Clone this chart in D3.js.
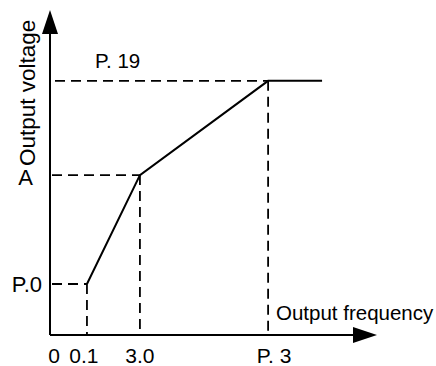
<!DOCTYPE html>
<html><head><meta charset="utf-8">
<script src="https://cdn.jsdelivr.net/npm/d3@7"></script>
<style>body{margin:0;background:#fff}svg{display:block}text{font-family:"Liberation Sans",Arial,sans-serif;fill:#000}</style>
</head><body>
<script>
// schematic V/f curve values (abstract units)
const freqValues = [11.3, 27.5, 66.7, 83.2];      // P.0 start, 3.0, P.3, end
const voltValues = [15.7, 49.2, 78.2, 78.2];
const xTickLabels = ["0", "0.1", "3.0", "P. 3"];
const xTickValues = [0, 11.3, 27.5, 66.7];
const yTickLabels = ["P.0", "A"];
const yTickValues = [15.7, 49.2];
const topLabel = "P. 19";
const xTitle = "Output frequency";
const yTitle = "Output voltage";

const W = 436, H = 366;
const svg = d3.select("body").append("svg").attr("width", W).attr("height", H);
const x = d3.scaleLinear().domain([0, 100]).range([50, 377]);
const y = d3.scaleLinear().domain([0, 100]).range([335, 10]);

const pts = freqValues.map((f, i) => [f, voltValues[i]]);

// dashed guides
const dash = "10,6";
const g = svg.append("g").attr("stroke", "#000").attr("stroke-width", 1.8).attr("stroke-dasharray", dash).attr("fill", "none");
[0, 1].forEach(i => {
  g.append("line").attr("x1", x(0) + 2).attr("x2", x(pts[i][0])).attr("y1", y(pts[i][1])).attr("y2", y(pts[i][1]));
});
g.append("line").attr("x1", x(0) + 5).attr("x2", x(pts[2][0])).attr("y1", y(pts[2][1])).attr("y2", y(pts[2][1]));
[0, 1, 2].forEach(i => {
  g.append("line").attr("x1", x(pts[i][0])).attr("x2", x(pts[i][0])).attr("y1", y(pts[i][1])).attr("y2", y(0));
});

// curve
svg.append("path").attr("d", d3.line().x(d => x(d[0])).y(d => y(d[1]))(pts))
  .attr("fill", "none").attr("stroke", "#000").attr("stroke-width", 2);

// axes
svg.append("line").attr("x1", x(0)).attr("x2", x(93)).attr("y1", y(0)).attr("y2", y(0)).attr("stroke", "#000").attr("stroke-width", 2);
svg.append("line").attr("x1", x(0)).attr("x2", x(0)).attr("y1", y(0)).attr("y2", y(93)).attr("stroke", "#000").attr("stroke-width", 2);
const tipX = x(100), tipY = y(100);
svg.append("path").attr("d", `M${tipX},${y(0)} L${tipX - 24},${y(0) - 8} L${tipX - 24},${y(0) + 8} Z`);
svg.append("path").attr("d", `M${x(0)},${tipY} L${x(0) - 8},${tipY + 24} L${x(0) + 8},${tipY + 24} Z`);

// x tick labels
const xOff = [4, -3, 0, 6];
svg.selectAll(".xt").data(xTickLabels).enter().append("text")
  .attr("x", (d, i) => x(xTickValues[i]) + xOff[i]).attr("y", 363)
  .attr("text-anchor", "middle").attr("font-size", 21).text(d => d);

// y tick labels
const yDy = [8, 10];
svg.selectAll(".yt").data(yTickLabels).enter().append("text")
  .attr("x", (d, i) => i === 0 ? 42 : 33).attr("y", (d, i) => y(yTickValues[i]) + yDy[i])
  .attr("text-anchor", "end").attr("font-size", 22).text(d => d);

svg.append("text").attr("x", 95).attr("y", 68).attr("font-size", 20.5).text(topLabel);
svg.append("text").attr("x", 276).attr("y", 320).attr("font-size", 20.5).text(xTitle);
svg.append("text").attr("transform", "translate(35,166) rotate(-90)").attr("font-size", 22.5).text(yTitle);
</script>
</body></html>
